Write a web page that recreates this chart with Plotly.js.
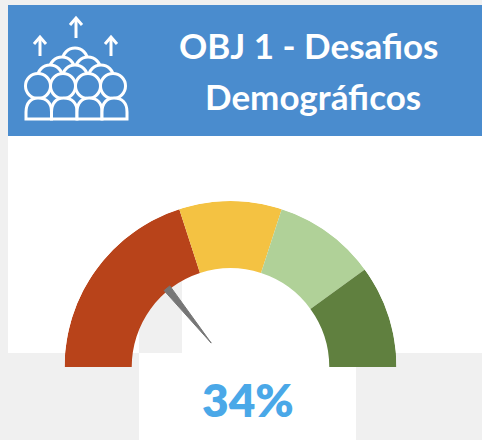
<!DOCTYPE html>
<html><head><meta charset="utf-8">
<script src="https://cdn.plot.ly/plotly-3.0.1.min.js"></script>
<style>html,body{margin:0;padding:0;background:#f0f0f0;overflow:hidden;font-variant-ligatures:none}
svg text{font-variant-ligatures:none}</style>
</head><body><div id="chart" style="width:482px;height:440px"></div>
<script>
const zoneNames = ['Bajo','Medio','Alto','Muy alto'];
const zoneShares = [40,20,20,20];
const zoneColors = ['#B8431A','#F4C242','#B0D198','#60803F'];
const needleAngleShare = 28.4;
const gaugeLabel = '34%';
const titleLines = ['OBJ 1 - Desafios','Demográficos'];

const W=482,H=440;
const X=p=>p/W, Y=p=>1-p/H;
function rect(x0,y0,x1,y1,c){return {type:'rect',xref:'paper',yref:'paper',x0:X(x0),x1:X(x1),y0:Y(y1),y1:Y(y0),fillcolor:c,line:{width:0},layer:'below'};}
function circ(cx,cy,r){return {type:'circle',xref:'paper',yref:'paper',x0:X(cx-r),x1:X(cx+r),y0:Y(cy+r),y1:Y(cy-r),fillcolor:'#4A8CCE',line:{color:'#fff',width:3},layer:'above'};}
function path(d,fill){return {type:'path',xref:'paper',yref:'paper',path:d.replace(/(-?[\d.]+),(-?[\d.]+)/g,(m,a,b)=>X(+a)+','+Y(+b)),fillcolor:fill||'rgba(0,0,0,0)',line:{color:'#fff',width:3},layer:'above'};}
function arrow(x,top,bot){return [path(`M${x},${bot} L${x},${top+1}`),path(`M${x-6},${top+7} L${x},${top} L${x+6},${top+7}`)];}

const shapes=[
 rect(8,5,482,136,'#4A8CCE'),
 rect(8,136,482,353,'#ffffff'),
 rect(139,353,356,440,'#ffffff'),
 rect(139,280,182,353,'#f0f0f0'),
 ...arrow(40,37,56),...arrow(76,18,38),...arrow(111,37,56)
];
// crowd icon, back to front
[[75,60.5,12.5],[62,69.5,12.5],[88,69.5,12.5],[50,77.5,12.5],[75,77.5,12.5],[101,77.5,12.5]].forEach(c=>shapes.push(circ(...c)));
[[38,86,12.5],[63,86,12.5],[88,86,12.5],[113,86,12.5]].forEach(c=>shapes.push(circ(...c)));
[[26,51.5],[51.5,77],[77,102],[102,127]].forEach(p=>{const a=p[0],b=p[1];
 shapes.push(path(`M${a},119 L${a},112 C${a},103 ${a+5},98 ${a+12},98 C${b-5},98 ${b},103 ${b},112 L${b},119 Z`,'#4A8CCE'));});

let cum=0; const thetas=[],widths=[];
zoneShares.forEach(s=>{thetas.push(180-(cum+s/2)*1.8);widths.push(s*1.8);cum+=s;});
const needleT=180-needleAngleShare*1.8;

const data=[{type:'barpolar',r:zoneShares.map(()=>0.405),base:zoneShares.map(()=>0.595),theta:thetas,width:widths,
 marker:{color:zoneColors,line:{width:0}},text:zoneNames,hoverinfo:'text',showlegend:false},
 {type:'scatterpolar',mode:'lines',r:[0.185,0.61,0.61,0.185],theta:[needleT,needleT+2.1,needleT-2.1,needleT],fill:'toself',fillcolor:'#767676',line:{color:'#767676',width:1},showlegend:false,hoverinfo:'skip'}];

const layout={width:W,height:H,margin:{l:0,r:0,t:0,b:0},paper_bgcolor:'#f0f0f0',showlegend:false,shapes,
 polar:{domain:{x:[64.5/W,396.5/W],y:[73/H,239/H]},sector:[0,180],bgcolor:'rgba(0,0,0,0)',
  radialaxis:{range:[0,1],visible:false,showgrid:false},angularaxis:{visible:false,showgrid:false,direction:'counterclockwise',rotation:0},barmode:'overlay'},
 annotations:[
  {text:titleLines[0],xref:'paper',yref:'paper',x:X(308.5),y:Y(45),showarrow:false,xanchor:'center',yanchor:'middle',font:{family:'Lato',size:35,color:'#fff',weight:700}},
  {text:titleLines[1],xref:'paper',yref:'paper',x:X(313),y:Y(96),showarrow:false,xanchor:'center',yanchor:'middle',font:{family:'Lato',size:35,color:'#fff',weight:700}},
  {text:gaugeLabel,xref:'paper',yref:'paper',x:X(248.5),y:Y(399),showarrow:false,xanchor:'center',yanchor:'middle',font:{family:'Lato',size:46,color:'#4AA8E8',weight:800}}
 ]};
Plotly.newPlot('chart',data,layout,{displayModeBar:false,staticPlot:true});
</script></body></html>
